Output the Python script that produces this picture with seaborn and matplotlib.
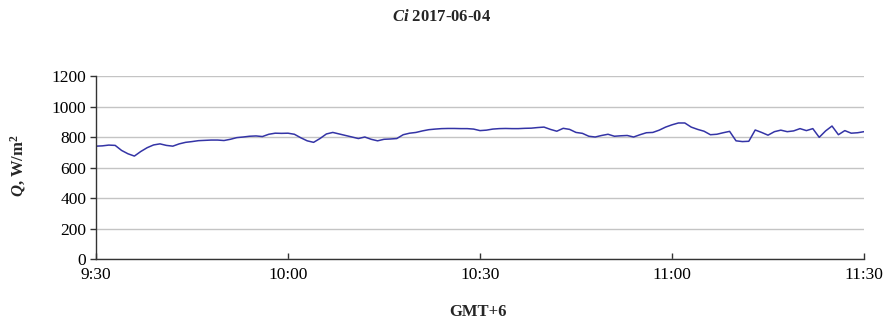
import matplotlib
matplotlib.use("Agg")
import matplotlib.pyplot as plt
import seaborn as sns
import pandas as pd

# Solar irradiance under Ci clouds, 2017-06-04, minutes after 9:30 (GMT+6)
minutes = list(range(0, 121))
irradiance = [
    740, 742, 747, 745, 712, 690, 675, 705, 730, 748,
    755, 745, 740, 755, 765, 770, 776, 778, 780, 780,
    777, 785, 796, 800, 805, 807, 803, 818, 825, 824,
    825, 818, 795, 775, 765, 790, 820, 830, 820, 810,
    800, 790, 800, 785, 775, 785, 787, 790, 815, 825,
    830, 840, 848, 852, 855, 856, 856, 855, 855, 852,
    842, 845, 852, 855, 856, 855, 855, 857, 858, 862,
    865, 850, 838, 857, 850, 830, 824, 805, 800, 810,
    818, 805, 808, 810, 800, 815, 828, 830, 845, 865,
    880, 892, 892, 865, 850, 838, 815, 818, 828, 837,
    775, 770, 772, 846, 830, 812, 835, 845, 835, 840,
    855, 842, 855, 798, 840, 872, 815, 842, 825, 828,
    835,
]
tick_minutes = [0, 30, 60, 90, 120]
tick_labels = ["9:30", "10:00", "10:30", "11:00", "11:30"]
y_ticks = [0, 200, 400, 600, 800, 1000, 1200]

df = pd.DataFrame({"minute": minutes, "Q": irradiance})

sns.set_theme(style="white")
plt.rcParams["font.family"] = ["Liberation Serif", "DejaVu Serif"]
plt.rcParams["mathtext.fontset"] = "custom"
plt.rcParams["mathtext.rm"] = "Liberation Serif:bold"
plt.rcParams["mathtext.it"] = "Liberation Serif:italic:bold"
plt.rcParams["mathtext.bf"] = "Liberation Serif:bold"

fig = plt.figure(figsize=(8.83, 3.24), dpi=100)
ax = fig.add_axes([0.1087, 0.2006, 0.8698, 0.5648])

sns.lineplot(data=df, x="minute", y="Q", ax=ax, color="#3434a6", linewidth=1.1)

ax.set_xlim(0, 120)
ax.set_ylim(0, 1200)
ax.set_xticks(tick_minutes)
ax.set_xticklabels(tick_labels)
ax.set_yticks(y_ticks)
ax.yaxis.grid(True, color="#c4c4c4", linewidth=1.0)
ax.xaxis.grid(False)

for side in ["top", "right"]:
    ax.spines[side].set_visible(False)
for side in ["left", "bottom"]:
    ax.spines[side].set_color("#333333")
    ax.spines[side].set_linewidth(1.0)

ax.tick_params(axis="y", direction="out", length=4, width=1, color="#333333",
               labelsize=12.5, labelcolor="black", pad=3, left=True)
ax.tick_params(axis="x", direction="in", length=4, width=1, color="#333333",
               labelsize=12.5, labelcolor="black", pad=6, bottom=True)

ax.set_ylabel(r"$Q$, W/m$^\mathregular{2}$", fontsize=12, fontweight="bold")
ax.yaxis.set_label_coords(-0.088, 0.51)
ax.set_xlabel("GMT+6", fontsize=12, fontweight="bold")
ax.xaxis.set_label_coords(0.497, -0.29)
ax.xaxis.label.set_va("center")

fig.text(0.500, 0.947, r"$Ci$ 2017-06-04", ha="center", va="center",
         fontsize=12, fontweight="bold")

fig.savefig("out.png", dpi=100, facecolor="white")
